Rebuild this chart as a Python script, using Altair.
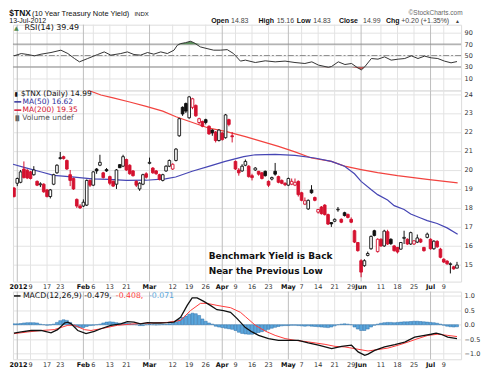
import altair as alt
import pandas as pd

# ---------------- data ----------------
# trading-day index: 0 = 30-Dec-2011, 1 = 3-Jan-2012 ... 134 = 13-Jul-2012
opens = [19.05, 19.30, 19.35, 20.05, 19.98, 19.90, 19.75, 19.40, 19.22, 19.25,
         18.95, 18.60, 19.25, 19.85, 20.60, 20.70, 20.50, 19.75, 19.55, 18.45,
         18.10, 18.10, 18.15, 19.45, 19.20, 20.05, 20.25, 19.85, 20.02, 19.65,
         19.40, 19.25, 20.28, 20.20, 20.55, 20.25, 19.95, 19.40, 19.00, 19.25,
         19.80, 20.35, 20.10, 19.95, 19.75, 19.45, 19.95, 20.20, 20.05, 20.50,
         21.80, 23.30, 23.50, 22.75, 23.30, 23.40, 22.50, 22.55, 22.65, 22.30,
         22.10, 22.00, 21.55, 21.95, 21.70, 22.65, 21.80, 20.45, 20.00, 19.95,
         20.25, 20.20, 19.70, 20.00, 19.93, 19.85, 19.93, 19.40, 19.52, 19.93,
         19.65, 19.45, 19.30, 19.20, 19.25, 19.20, 19.40, 18.80, 18.20, 17.95,
         18.95, 18.55, 17.78, 18.05, 18.15, 17.65, 17.23, 17.30, 17.90, 17.40,
         17.75, 17.66, 17.40, 16.80, 16.18, 15.22, 14.96, 15.50, 15.85, 16.80,
         15.70, 16.35, 16.00, 16.75, 16.35, 16.00, 15.92, 15.83, 16.40, 16.35,
         16.10, 16.10, 16.20, 16.35, 15.92, 16.45, 16.35, 15.85, 16.24, 15.83,
         15.30, 15.20, 15.02, 14.90, 14.83]
highs = [19.10, 19.60, 20.00, 20.45, 20.05, 19.95, 20.20, 19.45, 19.35, 19.30,
         19.00, 19.00, 19.80, 20.30, 20.95, 20.75, 20.55, 20.00, 19.60, 18.50,
         18.20, 18.45, 19.50, 19.50, 19.95, 20.10, 20.80, 19.90, 20.10, 19.70,
         19.45, 20.05, 20.30, 20.80, 20.60, 20.30, 20.00, 19.45, 19.35, 19.80,
         19.88, 20.65, 20.15, 20.00, 19.80, 19.80, 20.25, 20.55, 20.35, 21.15,
         22.75, 23.35, 23.55, 23.90, 23.80, 23.45, 22.75, 22.60, 22.70, 22.35,
         22.15, 22.05, 22.15, 22.00, 22.95, 22.70, 22.00, 20.50, 20.10, 20.30,
         20.55, 20.25, 19.80, 20.15, 19.95, 19.90, 19.97, 19.45, 19.65, 20.37,
         19.70, 19.50, 19.35, 19.60, 19.55, 19.55, 19.45, 18.85, 18.55, 18.45,
         19.20, 18.60, 17.95, 18.10, 18.20, 17.70, 17.25, 17.45, 18.05, 17.45,
         17.80, 17.70, 17.50, 16.85, 16.20, 15.30, 15.30, 15.70, 16.55, 16.85,
         16.40, 16.40, 16.85, 16.85, 16.40, 16.05, 15.95, 16.20, 16.80, 16.40,
         16.75, 16.30, 16.60, 16.40, 15.95, 16.70, 16.40, 16.30, 16.30, 15.90,
         15.35, 15.25, 15.13, 14.95, 15.16]
lows = [18.55, 19.15, 19.30, 19.55, 19.52, 19.50, 19.70, 19.15, 19.10, 18.80,
        18.55, 18.50, 19.20, 19.80, 20.55, 20.55, 20.00, 19.15, 18.95, 18.00,
        17.95, 18.05, 18.10, 19.10, 19.15, 19.80, 20.20, 19.55, 19.90, 19.20,
        19.10, 19.00, 20.10, 20.15, 19.95, 19.75, 19.65, 19.10, 18.90, 19.20,
        19.55, 20.30, 19.80, 19.75, 19.45, 19.40, 19.90, 20.15, 20.00, 20.45,
        21.75, 22.85, 23.00, 22.70, 23.20, 22.80, 22.40, 22.25, 22.40, 21.85,
        21.80, 21.45, 21.50, 21.55, 21.65, 22.30, 21.45, 20.00, 19.70, 19.90,
        20.20, 19.60, 19.45, 19.95, 19.70, 19.50, 19.65, 19.10, 19.45, 19.70,
        19.30, 19.25, 19.15, 19.15, 19.20, 19.15, 18.60, 18.35, 18.15, 17.90,
        18.75, 18.35, 17.70, 17.65, 17.60, 17.10, 17.00, 17.25, 17.80, 17.20,
        17.55, 17.45, 17.20, 16.15, 15.70, 14.35, 14.90, 15.45, 15.80, 16.50,
        15.65, 15.95, 15.95, 16.05, 16.05, 15.70, 15.60, 15.80, 16.10, 16.05,
        16.05, 16.05, 16.15, 16.15, 15.70, 16.40, 15.80, 15.80, 15.90, 15.35,
        15.10, 15.00, 14.55, 14.75, 14.83]
closes = [18.60, 19.55, 19.90, 19.60, 19.58, 19.55, 20.00, 19.20, 19.27, 18.85,
          18.60, 18.95, 19.75, 20.25, 20.65, 20.60, 20.05, 19.45, 19.00, 18.10,
          18.00, 18.30, 19.45, 19.20, 19.90, 19.95, 20.40, 19.60, 19.95, 19.30,
          19.15, 20.00, 20.12, 20.70, 20.00, 19.80, 19.70, 19.20, 19.30, 19.75,
          19.62, 20.40, 19.85, 19.80, 19.50, 19.75, 20.20, 20.50, 20.30, 21.10,
          22.70, 22.95, 23.10, 23.85, 23.75, 22.85, 22.70, 22.30, 22.50, 21.90,
          21.95, 21.55, 22.10, 21.60, 22.90, 22.40, 21.75, 20.05, 19.85, 20.20,
          20.45, 19.65, 19.60, 20.10, 19.78, 19.55, 19.70, 19.20, 19.60, 19.78,
          19.35, 19.30, 19.22, 19.55, 19.40, 19.35, 18.70, 18.40, 18.38, 18.40,
          18.80, 18.40, 17.92, 17.70, 17.65, 17.15, 17.16, 17.40, 17.93, 17.25,
          17.60, 17.50, 17.25, 16.20, 15.75, 14.62, 15.22, 15.60, 16.50, 16.55,
          16.35, 16.00, 16.78, 16.10, 16.12, 15.75, 15.68, 16.18, 16.45, 16.10,
          16.70, 16.27, 16.42, 16.20, 15.75, 16.62, 15.85, 16.25, 15.95, 15.40,
          15.15, 15.06, 15.06, 14.79, 14.99]

ma50_idx = [-0.3, 3.6, 8.6, 12, 17.5, 23.7, 28.7, 34, 40, 45.8, 48.9, 53.9, 58.9,
            63.9, 69.5, 73, 79, 85, 91, 96, 100, 103, 105, 108, 110, 113, 115,
            118, 120, 123, 125, 128, 131, 134.2]
ma50_val = [20.3, 20.11, 19.88, 19.72, 19.64, 19.53, 19.5, 19.45, 19.46, 19.53,
            19.63, 19.93, 20.19, 20.45, 20.7, 20.8, 20.82, 20.77, 20.63, 20.45,
            20.2, 19.8, 19.4, 18.97, 18.7, 18.42, 18.12, 17.92, 17.68, 17.47,
            17.33, 17.18, 16.95, 16.62]
ma200_idx = [20, 22.4, 26.3, 30, 35, 40, 45, 49, 54, 59, 64, 70, 80, 85, 90, 96,
             100, 105, 110, 116, 125, 134.2]
ma200_val = [24.4, 24.2, 23.95, 23.8, 23.58, 23.35, 23.1, 22.8, 22.5, 22.2, 22.03,
             21.76, 21.24, 20.95, 20.63, 20.45, 20.2, 20.02, 19.86, 19.7, 19.5, 19.32]

rsi_idx = [0, 2.2, 4.2, 6.2, 8.2, 11.2, 14.2, 16.3, 18.3, 19.8, 22.3, 25.3, 27.3,
           29.3, 32.3, 34.3, 36.3, 38.3, 40.4, 42.3, 44.4, 46.4, 48.4, 49.4, 50.4,
           51.9, 53.4, 54.4, 56.4, 58.4, 60.4, 62.4, 64.5, 66.4, 68.5, 70, 73, 76,
           79, 82, 85, 88, 90.1, 92.1, 95.1, 96.1, 98.1, 100.1, 102.1, 104.1,
           105.1, 106.1, 108.1, 110.1, 112.1, 114.1, 116.2, 118.2, 120.2, 122.2,
           124.2, 126.2, 128.2, 130.2, 132.2, 134]
rsi_val = [49.5, 53.5, 51.8, 49.5, 52.4, 55.3, 59.4, 53.5, 44.8, 39, 44.8, 51.8,
           56.4, 50.7, 53.5, 56.4, 51.8, 50.7, 55.3, 52.4, 56.4, 53.5, 59.4, 68,
           70.9, 72.6, 75, 72.6, 65.1, 62.2, 59.4, 59.4, 60.4, 53.5, 40.3, 42,
           37.8, 40.8, 39, 40.3, 37.8, 36.1, 39, 33.3, 29.5, 31, 39, 34.3, 36.1,
           28, 25, 30.3, 44.8, 43.7, 47.7, 42, 43.7, 44.8, 49.5, 44.8, 49, 46,
           44.8, 40.3, 37.3, 39.5]

macd_idx = [0, 2.2, 5.2, 8.2, 11.2, 13.2, 15.3, 16.3, 17.3, 19.3, 21.8, 24.3, 26.3,
            29.3, 32.3, 34.3, 36.3, 38.3, 40.4, 42.3, 44.4, 46.4, 48.4, 50.4, 52.4,
            53.9, 55.4, 57.4, 59.4, 61.4, 63.4, 65.5, 67.5, 70, 72, 74, 77, 80, 83,
            86, 89, 92.1, 96.1, 99.1, 102.1, 104.1, 106.1, 107.1, 109.1, 112.1,
            115.2, 118.2, 121.2, 124.2, 126.2, 127.7, 129.2, 131.2, 134]
macd_val = [-0.29, -0.25, -0.2, -0.2, -0.28, -0.17, 0.06, 0.09, 0.03, -0.2, -0.31,
            -0.23, -0.14, -0.02, 0.03, 0.11, 0.09, 0.03, 0.07, 0.06, 0.06, 0.07,
            0.09, 0.26, 0.67, 0.93, 0.93, 0.81, 0.67, 0.52, 0.49, 0.43, 0.21, -0.1,
            -0.25, -0.37, -0.48, -0.54, -0.54, -0.54, -0.63, -0.71, -0.83, -0.75,
            -0.71, -0.94, -1.06, -1.02, -0.89, -0.77, -0.69, -0.6, -0.43, -0.37,
            -0.33, -0.29, -0.33, -0.43, -0.48]
sig_idx = [0, 4.2, 8.2, 12.2, 16.3, 18.3, 21.3, 23.3, 26.3, 31.3, 36.3, 41.4, 46.4,
           50.4, 53.4, 56.4, 58.4, 61.4, 65.5, 68.5, 70, 73, 76, 79, 82, 85, 88,
           91.1, 94.1, 97.1, 100.1, 103.1, 107.1, 110.1, 113.1, 116.2, 119.2,
           122.2, 125.2, 128.2, 131.2, 134]
sig_val = [-0.31, -0.25, -0.2, -0.17, -0.02, -0.02, -0.17, -0.2, -0.14, -0.02, 0.03,
           0.06, 0.08, 0.15, 0.49, 0.74, 0.74, 0.67, 0.59, 0.43, 0.28, -0.02, -0.22,
           -0.37, -0.48, -0.54, -0.58, -0.63, -0.68, -0.75, -0.77, -0.83, -0.91,
           -0.86, -0.81, -0.71, -0.6, -0.48, -0.37, -0.33, -0.37, -0.41]
hist_val = [0.03, 0.03, 0.04, 0.06, 0.07, 0.07, 0.07, 0.06, 0.02, 0.0,
            -0.02, -0.01, 0.02, 0.08, 0.14, 0.17, 0.15, 0.08, -0.03, -0.08,
            -0.1, -0.1, -0.06, -0.03, -0.02, 0.0, 0.02, 0.06, 0.09, 0.1,
            0.09, 0.07, 0.05, 0.05, 0.05, 0.04, 0.02, 0.0, -0.03, -0.03,
            0.0, 0.02, 0.0, -0.01, 0.0, 0.01, 0.01, 0.03, 0.05, 0.1,
            0.17, 0.25, 0.3, 0.36, 0.4, 0.38, 0.32, 0.2, 0.12, 0.06,
            0.02, -0.05, -0.08, -0.1, -0.12, -0.14, -0.16, -0.2, -0.26, -0.3,
            -0.32, -0.33, -0.33, -0.3, -0.27, -0.24, -0.2, -0.16, -0.12, -0.09,
            -0.06, -0.04, -0.03, -0.03, -0.02, -0.02, -0.03, -0.04, -0.05, -0.04,
            -0.05, -0.06, -0.07, -0.08, -0.09, -0.1, -0.08, -0.04, 0.0, 0.02,
            0.03, 0.02, 0.0, -0.08, -0.15, -0.2, -0.2, -0.15, -0.08, -0.02,
            0.02, 0.05, 0.07, 0.08, 0.08, 0.07, 0.08, 0.09, 0.1, 0.1,
            0.11, 0.12, 0.12, 0.11, 0.1, 0.09, 0.08, 0.07, 0.05, 0.02,
            -0.02, -0.05, -0.07, -0.08, -0.07]

tick_idx = [1, 5, 10, 14, 21, 24, 29, 34, 41, 48, 53, 58, 63, 67, 72, 77, 83, 87,
            92, 97, 102, 105, 111, 116, 121, 126, 130]
tick_lab = ["2012", "9", "17", "23", "Feb", "6", "13", "21", "Mar", "12", "19", "26",
            "Apr", "9", "16", "23", "May", "7", "14", "21", "29", "Jun", "11", "18",
            "25", "Jul", "9"]
price_ticks = [15, 16, 17, 18, 19, 20, 21, 22, 23, 24]
rsi_ticks = [10, 30, 50, 70, 90]
macd_ticks = [-1.0, -0.5, 0.0, 0.5, 1.0]

# ---------------- styling ----------------
FONT = "DejaVu Sans"
SANS = "Liberation Sans"
RED = "#d4112f"
BLK = "#111111"
W = 450
H_RSI, H_PX, H_GAP, H_MACD = 66, 192, 10, 68
xs = alt.Scale(domain=[-0.3, 135.24], nice=False, zero=False)
ys_px = alt.Scale(domain=[14.12, 24.19], nice=False, zero=False)
ys_rsi = alt.Scale(domain=[-11, 104], nice=False, zero=False)
ys_macd = alt.Scale(domain=[-1.197, 1.148], nice=False, zero=False)

# ---------------- tables ----------------
rows = []
for i in range(len(closes)):
    prev = closes[i - 1] if i > 0 else opens[0]
    col = RED if closes[i] < prev else BLK
    rows.append(dict(i=i, o=opens[i], h=highs[i], l=lows[i], c=closes[i],
                     col=col, fil=("white" if closes[i] > opens[i] else col),
                     top=max(opens[i], closes[i]), bot=min(opens[i], closes[i]),
                     x1=i - 0.4, x2=i + 0.4))
candles = pd.DataFrame(rows)

ticks = pd.DataFrame({"i": tick_idx, "lab": tick_lab})
ticks["kind"] = ["year" if s == "2012" else ("month" if not s.isdigit() else "day")
                 for s in tick_lab]
ticks["gc"] = ["#bdbdbd" if k != "day" else "#e3e3e3" for k in ticks["kind"]]

ma50 = pd.DataFrame({"i": ma50_idx, "v": ma50_val})
ma200 = pd.DataFrame({"i": ma200_idx, "v": ma200_val})
rsi = pd.DataFrame({"i": rsi_idx, "v": rsi_val})
rsi["hi"] = rsi["v"].clip(lower=70)
rsi["lo"] = rsi["v"].clip(upper=30)
rsi["b70"] = 70
rsi["b30"] = 30
macd = pd.DataFrame({"i": macd_idx, "v": macd_val})
sig = pd.DataFrame({"i": sig_idx, "v": sig_val})
hist = pd.DataFrame({"i": list(range(len(hist_val))), "v": hist_val})
hist["x1"] = hist["i"] - 0.45
hist["x2"] = hist["i"] + 0.45
hist["z"] = 0.0

one = pd.DataFrame({"k": [0]})


def txt(s, x, y, size=7.5, color=BLK, weight="normal", align="left",
        baseline="middle", font=FONT):
    return alt.Chart(one).mark_text(
        text=s, fontSize=size, color=color, fontWeight=weight, align=align,
        baseline=baseline, font=font).encode(x=alt.value(x), y=alt.value(y))


def hline(x1, x2, y, color, width=1.5):
    return alt.Chart(one).mark_rule(color=color, strokeWidth=width).encode(
        x=alt.value(x1), x2=alt.value(x2), y=alt.value(y))


def vgrid():
    return alt.Chart(ticks).mark_rule(strokeWidth=1).encode(
        x=alt.X("i:Q", scale=xs, axis=None),
        color=alt.Color("gc:N", scale=None))


def date_labels(y):
    base = alt.Chart(ticks)
    enc = dict(x=alt.X("i:Q", scale=xs, axis=None), y=alt.value(y), text="lab:N")
    yr = base.transform_filter("datum.kind == 'year'").mark_text(
        font=FONT, fontSize=6.5, fontWeight="bold", color=BLK, baseline="middle",
        dx=1.2).encode(**enc)
    mo = base.transform_filter("datum.kind == 'month'").mark_text(
        font=FONT, fontSize=6.5, fontWeight="bold", color=BLK, baseline="middle"
    ).encode(**enc)
    dy = base.transform_filter("datum.kind == 'day'").mark_text(
        font=FONT, fontSize=6.5, color="#333333", baseline="middle").encode(**enc)
    return yr + mo + dy


def raxis(values, fmt=None):
    kw = dict(orient="right", values=values, grid=True, gridColor="#e3e3e3",
              domain=False, ticks=False, labelPadding=3, labelFont=FONT,
              labelFontSize=6.5, labelColor="#333333", title=None)
    if fmt:
        kw["format"] = fmt
    return alt.Axis(**kw)


AX_RSI = raxis(rsi_ticks)
AX_PX = raxis(price_ticks)
AX_MACD = raxis(macd_ticks, ".1f")

# ---------------- RSI panel ----------------
rsi_line = alt.Chart(rsi).mark_line(color="#333333", strokeWidth=1, clip=True).encode(
    x=alt.X("i:Q", scale=xs, axis=None),
    y=alt.Y("v:Q", scale=ys_rsi, axis=AX_RSI))
rsi_hi = alt.Chart(rsi).mark_area(color="#4f8a4f", opacity=0.9, clip=True).encode(
    x=alt.X("i:Q", scale=xs, axis=None), y=alt.Y("hi:Q", scale=ys_rsi, axis=AX_RSI),
    y2="b70:Q")
rsi_lo = alt.Chart(rsi).mark_area(color="#c0504d", opacity=0.9, clip=True).encode(
    x=alt.X("i:Q", scale=xs, axis=None), y=alt.Y("lo:Q", scale=ys_rsi, axis=AX_RSI),
    y2="b30:Q")
lvl = pd.DataFrame({"v": [70, 30]})
rsi_lvls = alt.Chart(lvl).mark_rule(color="#8c8c8c", strokeWidth=1).encode(
    y=alt.Y("v:Q", scale=ys_rsi, axis=AX_RSI))
rsi_mid = alt.Chart(pd.DataFrame({"v": [50]})).mark_rule(
    color="#8c8c8c", strokeWidth=1, strokeDash=[6, 2, 2, 2]).encode(
    y=alt.Y("v:Q", scale=ys_rsi, axis=AX_RSI))

anchor = alt.Chart(one).mark_rule(opacity=0).encode(
    x=alt.value(-3.7), y=alt.value(-14.7), y2=alt.value(0))

header = [
    anchor,
    txt("$TNX", -3.7, -8.5, size=8.5, weight="bold", baseline="alphabetic", font=SANS),
    txt("(10 Year Treasury Note Yield)", 19, -8.5, size=7.5, baseline="alphabetic", font=SANS),
    txt("INDX", 122, -8.5, size=6, baseline="alphabetic", font=SANS),
    txt("13-Jul-2012", -3.7, -1.3, size=7, baseline="alphabetic", font=SANS),
    txt("\u00a9StockCharts.com", 451.5, -9.5, size=6.5, color="#666666",
        align="right", baseline="alphabetic", font=SANS),
    txt("Open", 199, -1.3, size=7, weight="bold", baseline="alphabetic", font=SANS),
    txt("14.83", 219, -1.3, size=7, color="#444444", baseline="alphabetic", font=SANS),
    txt("High", 246.6, -1.3, size=7, weight="bold", baseline="alphabetic", font=SANS),
    txt("15.16", 264.8, -1.3, size=7, color="#444444", baseline="alphabetic", font=SANS),
    txt("Low", 285, -1.3, size=7, weight="bold", baseline="alphabetic", font=SANS),
    txt("14.83", 301.6, -1.3, size=7, color="#444444", baseline="alphabetic", font=SANS),
    txt("Close", 327.3, -1.3, size=7, weight="bold", baseline="alphabetic", font=SANS),
    txt("14.99", 351.6, -1.3, size=7, color="#444444", baseline="alphabetic", font=SANS),
    txt("Chg", 374.5, -1.3, size=7, weight="bold", baseline="alphabetic", font=SANS),
    txt("+0.20 (+1.35%)", 389.8, -1.3, size=7, color="#444444", baseline="alphabetic", font=SANS),
    txt("\u25b2", 444, -1.3, size=5, color="#444444", baseline="alphabetic", font=SANS),
]

rsi_panel = alt.layer(
    vgrid(), rsi_lvls, rsi_mid, rsi_hi, rsi_lo, rsi_line,
    txt("\u25b2", 1, 3.2, size=6, color="#4f8a4f"),
    txt("RSI(14) 39.49", 11.6, 3.2, size=8),
    *header,
).properties(width=W, height=H_RSI)

# ---------------- price panel ----------------
ma200_line = alt.Chart(ma200).mark_line(color="#f2433f", strokeWidth=1.2, clip=True).encode(
    x=alt.X("i:Q", scale=xs, axis=None),
    y=alt.Y("v:Q", scale=ys_px, axis=AX_PX))
ma50_line = alt.Chart(ma50).mark_line(color="#4646b4", strokeWidth=1.2, clip=True).encode(
    x=alt.X("i:Q", scale=xs, axis=None), y=alt.Y("v:Q", scale=ys_px, axis=AX_PX))
wicks = alt.Chart(candles).mark_rule(strokeWidth=1, clip=True).encode(
    x=alt.X("i:Q", scale=xs, axis=None), y=alt.Y("l:Q", scale=ys_px, axis=AX_PX),
    y2="h:Q", color=alt.Color("col:N", scale=None))
bodies = alt.Chart(candles).mark_bar(strokeWidth=0.9, clip=True).encode(
    x=alt.X("x1:Q", scale=xs, axis=None), x2="x2:Q",
    y=alt.Y("top:Q", scale=ys_px, axis=AX_PX), y2="bot:Q",
    fill=alt.Fill("fil:N", scale=None), stroke=alt.Stroke("col:N", scale=None))

price_panel = alt.layer(
    vgrid(), ma200_line, ma50_line, wicks, bodies,
    txt("\u25ae", 1.5, 3.8, size=6, color=BLK),
    txt("$TNX (Daily) 14.99", 8, 3.8, size=7.5),
    hline(1.3, 8.3, 11.5, "#2e2e9a"),
    txt("MA(50) 16.62", 9.6, 11.5, size=7.5, color="#2e2e9a"),
    hline(1.3, 8.3, 19.8, RED),
    txt("MA(200) 19.35", 9.6, 19.8, size=7.5, color=RED),
    txt("\u2590\u258c", 0.5, 27.3, size=5, color="#666666"),
    txt("Volume undef", 9.3, 27.3, size=7.5, color="#555555"),
    txt("Benchmark Yield is Back", 196.6, 166.3, size=9, weight="bold"),
    txt("Near the Previous Low", 196.6, 181.6, size=9, weight="bold"),
    date_labels(H_PX + 5.6),
).properties(width=W, height=H_PX)

# spacer between the price panel and the MACD panel (no border)
spacer = alt.Chart(one).mark_point(opacity=0).encode(
    x=alt.value(0), y=alt.value(0)
).properties(width=W, height=H_GAP, view=alt.ViewBackground(stroke="transparent"))

# ---------------- MACD panel ----------------
hist_bars = alt.Chart(hist).mark_bar(color="#5aa6dc", stroke="#2b6ea8",
                                     strokeWidth=0.5, clip=True).encode(
    x=alt.X("x1:Q", scale=xs, axis=None), x2="x2:Q",
    y=alt.Y("v:Q", scale=ys_macd, axis=AX_MACD), y2="z:Q")
sig_line = alt.Chart(sig).mark_line(color="#ff3b3b", strokeWidth=1, clip=True).encode(
    x=alt.X("i:Q", scale=xs, axis=None), y=alt.Y("v:Q", scale=ys_macd, axis=AX_MACD))
macd_line = alt.Chart(macd).mark_line(color=BLK, strokeWidth=1.3, clip=True).encode(
    x=alt.X("i:Q", scale=xs, axis=None), y=alt.Y("v:Q", scale=ys_macd, axis=AX_MACD))

macd_panel = alt.layer(
    vgrid(), hist_bars, sig_line, macd_line,
    hline(1, 7.6, 4.4, BLK),
    txt("MACD(12,26,9) -0.479,", 10, 4.4, size=7.8),
    txt("-0.408,", 103.3, 4.4, size=7.8, color="#ff3b3b"),
    txt("-0.071", 136.6, 4.4, size=7.8, color="#5aa6dc"),
    date_labels(H_MACD + 6.0),
).properties(width=W, height=H_MACD)

chart = alt.vconcat(
    rsi_panel, price_panel, spacer, macd_panel, spacing=0, bounds="flush"
).resolve_scale(x="independent", y="independent").properties(
    padding={"left": 0, "top": 0, "right": 0, "bottom": 0}
).configure_view(stroke="#9c9c9c", strokeWidth=1).configure(background="white")

chart.save("out.html", embed_options={"renderer": "svg", "actions": False})
